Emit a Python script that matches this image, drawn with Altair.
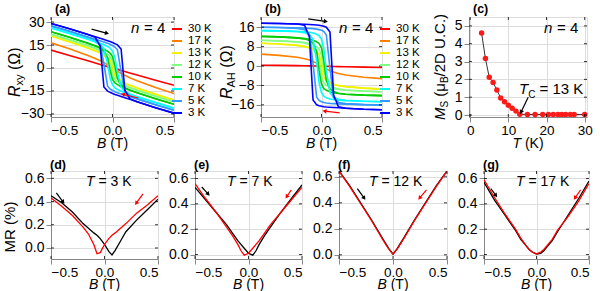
import math
import altair as alt
import pandas as pd

FONT = "Liberation Sans"

# ---------------- data ----------------
TEMPS = ["30 K", "17 K", "13 K", "12 K", "10 K", "7 K", "5 K", "3 K"]
TEMP_COLORS = ["#ff0000", "#ff8000", "#f2f200", "#80ff80", "#00cc00", "#00ffff", "#3399ff", "#0000ff"]

B_LOOP = [-0.5, -0.35, -0.2, -0.14, -0.1, -0.07, -0.04, -0.02, 0.0, 0.02, 0.04, 0.07, 0.1, 0.14, 0.2, 0.35, 0.5]

# (a) R_xy, field swept up (-0.5 -> 0.5) and down (0.5 -> -0.5)
RXY_UP = {
    "30 K": [11.7, 8.2, 4.7, 3.3, 2.3, 1.6, 0.9, 0.45, 0.0, -0.45, -0.9, -1.6, -2.3, -3.2, -4.6, -8.0, -11.3],
    "17 K": [16.4, 12.5, 8.2, 6.2, 4.8, 3.5, 2.1, 1.1, 0.0, -1.1, -2.1, -3.5, -4.8, -6.3, -8.3, -12.7, -16.7],
    "13 K": [20.9, 17.2, 13.1, 11.3, 9.9, 8.6, 6.9, 5.1, 1.5, -3.0, -5.9, -8.2, -9.7, -11.2, -13.1, -17.2, -21.0],
    "12 K": [22.1, 18.5, 14.6, 12.9, 11.6, 10.4, 8.9, 7.5, 4.5, -2.0, -6.4, -9.4, -11.1, -12.7, -14.5, -18.4, -22.1],
    "10 K": [23.7, 20.1, 16.2, 14.5, 13.3, 12.2, 10.9, 9.8, 7.5, 1.5, -6.9, -11.1, -12.8, -14.4, -16.2, -20.1, -23.7],
    "7 K": [26.1, 22.6, 18.9, 17.3, 16.2, 15.2, 14.0, 13.0, 11.0, 6.5, -2.9, -12.6, -15.2, -16.9, -18.7, -22.6, -26.2],
    "5 K": [27.5, 24.0, 20.3, 18.8, 17.8, 17.0, 16.1, 15.5, 14.7, 13.7, 11.9, -2.6, -15.3, -18.2, -20.1, -24.0, -27.6],
    "3 K": [29.1, 25.6, 21.9, 20.4, 19.4, 18.6, 17.8, 17.3, 16.6, 15.9, 15.1, 12.4, -14.3, -20.0, -22.0, -25.9, -29.5],
}
RXY_DOWN = {
    "13 K": [20.9, 17.2, 13.1, 11.2, 9.7, 8.2, 5.9, 3.0, -1.5, -5.1, -6.9, -8.6, -9.9, -11.3, -13.1, -17.2, -21.0],
    "12 K": [22.1, 18.4, 14.5, 12.7, 11.1, 9.4, 6.4, 2.0, -4.5, -7.5, -8.9, -10.4, -11.6, -12.9, -14.6, -18.5, -22.1],
    "10 K": [23.7, 20.1, 16.2, 14.4, 12.8, 11.1, 6.9, -1.5, -7.5, -9.8, -10.9, -12.2, -13.3, -14.5, -16.2, -20.1, -23.7],
    "7 K": [26.1, 22.6, 18.7, 16.9, 15.2, 12.6, 2.9, -6.5, -11.0, -13.0, -14.0, -15.2, -16.2, -17.3, -18.9, -22.6, -26.2],
    "5 K": [27.5, 24.0, 20.1, 18.2, 15.3, 2.6, -11.9, -13.7, -14.7, -15.5, -16.1, -17.0, -17.8, -18.8, -20.3, -24.0, -27.6],
    "3 K": [29.1, 25.6, 21.9, 20.0, 14.3, -12.4, -15.1, -15.9, -16.6, -17.3, -17.8, -18.6, -19.4, -20.4, -22.0, -25.9, -29.5],
}

# (b) R_AH
RAH_UP = {
    "30 K": [0.3, 0.25, 0.15, 0.1, 0.08, 0.05, 0.03, 0.01, 0.0, -0.05, -0.1, -0.15, -0.2, -0.25, -0.3, -0.45, -0.6],
    "17 K": [4.9, 4.4, 3.6, 3.0, 2.5, 1.9, 1.2, 0.6, 0.0, -0.6, -1.2, -1.9, -2.5, -3.1, -3.7, -4.6, -5.2],
    "13 K": [9.4, 9.1, 8.5, 8.1, 7.6, 7.0, 6.0, 4.6, 1.5, -2.5, -5.0, -6.6, -7.4, -8.0, -8.5, -9.1, -9.5],
    "12 K": [10.6, 10.4, 10.0, 9.7, 9.3, 8.8, 8.0, 7.0, 4.5, -1.5, -5.5, -7.8, -8.8, -9.5, -9.9, -10.3, -10.6],
    "10 K": [12.2, 12.0, 11.6, 11.3, 11.0, 10.6, 10.0, 9.3, 7.5, 2.0, -6.0, -9.5, -10.5, -11.2, -11.6, -12.0, -12.2],
    "7 K": [14.6, 14.5, 14.3, 14.1, 13.9, 13.6, 13.1, 12.5, 11.0, 7.0, -2.0, -11.0, -12.9, -13.7, -14.1, -14.5, -14.7],
    "5 K": [16.0, 15.9, 15.7, 15.6, 15.5, 15.4, 15.2, 15.0, 14.7, 14.2, 12.8, -1.0, -13.0, -15.0, -15.5, -15.9, -16.1],
    "3 K": [17.6, 17.5, 17.3, 17.2, 17.1, 17.0, 16.9, 16.8, 16.6, 16.4, 16.0, 14.0, -12.0, -16.8, -17.4, -17.8, -18.0],
}
RAH_DOWN = {
    "13 K": [9.4, 9.1, 8.5, 8.0, 7.4, 6.6, 5.0, 2.5, -1.5, -4.6, -6.0, -7.0, -7.6, -8.1, -8.5, -9.1, -9.5],
    "12 K": [10.6, 10.3, 9.9, 9.5, 8.8, 7.8, 5.5, 1.5, -4.5, -7.0, -8.0, -8.8, -9.3, -9.7, -10.0, -10.4, -10.6],
    "10 K": [12.2, 12.0, 11.6, 11.2, 10.5, 9.5, 6.0, -2.0, -7.5, -9.3, -10.0, -10.6, -11.0, -11.3, -11.6, -12.0, -12.2],
    "7 K": [14.6, 14.5, 14.1, 13.7, 12.9, 11.0, 2.0, -7.0, -11.0, -12.5, -13.1, -13.6, -13.9, -14.1, -14.3, -14.5, -14.7],
    "5 K": [16.0, 15.9, 15.5, 15.0, 13.0, 1.0, -12.8, -14.2, -14.7, -15.0, -15.2, -15.4, -15.5, -15.6, -15.7, -15.9, -16.1],
    "3 K": [17.6, 17.5, 17.3, 16.8, 12.0, -14.0, -16.0, -16.4, -16.6, -16.8, -16.9, -17.0, -17.1, -17.2, -17.4, -17.8, -18.0],
}

# (c) saturation magnetisation vs temperature
T_MS = [3, 4, 5, 6, 7, 8, 9, 10, 11, 12, 13, 15, 17, 19, 20.5, 21.75, 23, 24, 25, 26.25, 27.25, 30]
MS = [4.6, 3.17, 2.12, 1.82, 1.41, 0.95, 0.75, 0.55, 0.38, 0.22, 0.04, 0.03, 0.03, 0.03, 0.03, 0.03,
      0.03, 0.03, 0.03, 0.03, 0.03, 0.03]

# (d)-(g) magnetoresistance
B_MR = [-0.5, -0.4, -0.3, -0.2, -0.15, -0.1, -0.07, -0.04, 0.0, 0.04, 0.07, 0.1, 0.15, 0.2, 0.3, 0.4, 0.5]
MR_3K_UP = [0.45, 0.39, 0.31, 0.21, 0.17, 0.13, 0.11, 0.08, 0.03, -0.03, -0.06, -0.02, 0.06, 0.14, 0.24, 0.33, 0.42]
MR_3K_DN = [0.43, 0.36, 0.28, 0.18, 0.12, 0.03, -0.05, -0.04, 0.03, 0.08, 0.11, 0.13, 0.17, 0.21, 0.30, 0.37, 0.45]
MR_7K_UP = [0.53, 0.43, 0.33, 0.23, 0.17, 0.11, 0.08, 0.05, 0.01, -0.005, 0.03, 0.08, 0.15, 0.21, 0.33, 0.44, 0.55]
MR_7K_DN = [0.56, 0.44, 0.33, 0.21, 0.15, 0.08, 0.03, -0.005, 0.01, 0.05, 0.08, 0.11, 0.17, 0.23, 0.33, 0.43, 0.53]
MR_12K_UP = [0.645, 0.53, 0.40, 0.27, 0.20, 0.13, 0.09, 0.05, 0.005, 0.05, 0.09, 0.13, 0.20, 0.27, 0.40, 0.53, 0.645]
MR_12K_DN = [0.645, 0.525, 0.395, 0.265, 0.195, 0.125, 0.085, 0.045, 0.005, 0.045, 0.085, 0.125, 0.195, 0.265, 0.395, 0.525, 0.645]
MR_17K_UP = [0.57, 0.43, 0.31, 0.19, 0.12, 0.07, 0.04, 0.02, 0.003, 0.01, 0.03, 0.06, 0.11, 0.18, 0.31, 0.44, 0.58]
MR_17K_DN = [0.59, 0.45, 0.32, 0.20, 0.13, 0.07, 0.04, 0.02, 0.005, 0.02, 0.04, 0.07, 0.12, 0.19, 0.30, 0.42, 0.56]

# ---------------- helpers ----------------
CW = {" ": 278, "(": 333, ")": 333, "Ω": 768, "R": 722, "x": 500, "y": 500, "A": 667, "H": 722,
      "M": 833, "S": 667, "μ": 576, "B": 667, "/": 278, "D": 722, "U": 722, ".": 278, "C": 722,
      "%": 889, "T": 611, "K": 667, "=": 584, "n": 556}
LBL = 14


def tw(s, fs):
    return sum(CW.get(c, 556) for c in s) * fs / 1000.0


def text_layer(s, x, y, size=13, italic=False, bold=False, angle=0, align="left",
               baseline="alphabetic", color="black"):
    kw = dict(font=FONT, fontSize=size, align=align, baseline=baseline, color=color)
    if italic:
        kw["fontStyle"] = "italic"
    if bold:
        kw["fontWeight"] = "bold"
    if angle:
        kw["angle"] = angle
    return alt.Chart(pd.DataFrame({"s": [s]})).mark_text(**kw).encode(
        text="s:N", x=alt.value(x), y=alt.value(y))


def rich_h(pieces, x, y):
    out = []
    for t, fs, it, sh in pieces:
        lead = len(t) - len(t.lstrip(" "))
        x += tw(" " * lead, fs)
        t = t.lstrip(" ")
        out.append(text_layer(t, x, y + sh, fs, italic=it))
        x += tw(t, fs)
    return out


def rich_h_center(pieces, cx, y):
    total = sum(tw(t, fs) for t, fs, it, sh in pieces)
    return rich_h(pieces, cx - total / 2.0, y)


def rich_v_center(pieces, bx, cy):
    total = sum(tw(t, fs) for t, fs, it, sh in pieces)
    y = cy + total / 2.0
    out = []
    for t, fs, it, sh in pieces:
        lead = len(t) - len(t.lstrip(" "))
        y -= tw(" " * lead, fs)
        t = t.lstrip(" ")
        out.append(text_layer(t, bx + sh, y, fs, italic=it, angle=270))
        y -= tw(t, fs)
    return out


def frame_ticks(xs, ys, xax, yax, xt, yt, w, h, L=3):
    tx = alt.Chart(pd.DataFrame({"v": xt}))
    ty = alt.Chart(pd.DataFrame({"v": yt}))
    X = alt.X("v:Q", scale=xs, axis=xax, title=None)
    Y = alt.Y("v:Q", scale=ys, axis=yax, title=None)
    st = dict(color="black", strokeWidth=0.8)
    return [
        tx.mark_rule(**st).encode(x=X, y=alt.value(h), y2=alt.value(h - L)),
        tx.mark_rule(**st).encode(x=X, y=alt.value(0), y2=alt.value(L)),
        ty.mark_rule(**st).encode(y=Y, x=alt.value(0), x2=alt.value(L)),
        ty.mark_rule(**st).encode(y=Y, x=alt.value(w), x2=alt.value(w - L)),
    ]


def arrow_layers(arrs, xs, ys, xax, yax, xd, yd, w, h):
    out = []
    for (x1, y1, x2, y2, col) in arrs:
        base = alt.Chart(pd.DataFrame({"x1": [x1], "y1": [y1], "x2": [x2], "y2": [y2]}))
        X1 = alt.X("x1:Q", scale=xs, axis=xax, title=None)
        Y1 = alt.Y("y1:Q", scale=ys, axis=yax, title=None)
        out.append(base.mark_rule(color=col, strokeWidth=1.2).encode(x=X1, y=Y1, x2="x2:Q", y2="y2:Q"))
        dxp = (x2 - x1) / (xd[1] - xd[0]) * w
        dyp = -(y2 - y1) / (yd[1] - yd[0]) * h
        ang = math.degrees(math.atan2(dxp, -dyp)) % 360
        out.append(base.mark_point(shape="triangle", filled=True, size=22, color=col, opacity=1,
                                   angle=ang).encode(
            x=alt.X("x2:Q", scale=xs, axis=xax, title=None),
            y=alt.Y("y2:Q", scale=ys, axis=yax, title=None)))
    return out


def anchor(x, y1, y2):
    return alt.Chart(pd.DataFrame({"a": [0]})).mark_rule(opacity=0, strokeWidth=0.1).encode(
        x=alt.value(x), y=alt.value(y1), y2=alt.value(y2))


# ---------------- layout numbers ----------------
TOP_H = 100
A_W, B_W, C_W = 123, 121, 118
TOP_SP = 87
BOT_H = 88
D_W, E_W, F_W, G_W = 107, 107, 108, 105
BOT_SP = 37


def loop_panel(up, down, ydom, yticks, w, label, ytitle, arrows, extra):
    rows = []
    for t in TEMPS:
        for b, r in zip(B_LOOP, up[t]):
            rows.append({"T": t, "br": t + "u", "B": b, "R": r})
        if t in down:
            for b, r in zip(B_LOOP, down[t]):
                rows.append({"T": t, "br": t + "d", "B": b, "R": r})
    df = pd.DataFrame(rows)
    xd = [-0.5, 0.5]
    xs = alt.Scale(domain=xd, nice=False, zero=False)
    ys = alt.Scale(domain=ydom, nice=False, zero=False)
    xax = alt.Axis(values=[-0.5, 0.0, 0.5], format=".1f", labelFontSize=13.5, labelPadding=1)
    yax = alt.Axis(values=yticks, format="d", labelFontSize=LBL)
    lines = alt.Chart(df).mark_line(strokeWidth=1.6, clip=True).encode(
        x=alt.X("B:Q", scale=xs, axis=xax, title=None),
        y=alt.Y("R:Q", scale=ys, axis=yax, title=None),
        color=alt.Color("T:N", scale=alt.Scale(domain=TEMPS, range=TEMP_COLORS),
                        legend=alt.Legend(orient="none", legendX=w - 3, legendY=6, title=None,
                                          symbolType="stroke", symbolSize=100, symbolStrokeWidth=2,
                                          labelFont=FONT, labelFontSize=11.5, labelColor="black",
                                          rowPadding=0, padding=0, labelOffset=5)),
        detail="br:N",
    )
    layers = [lines] + frame_ticks(xs, ys, xax, yax, [-0.5, 0, 0.5], yticks, w, TOP_H)
    layers += arrow_layers(arrows, xs, ys, xax, yax, xd, ydom, w, TOP_H)
    layers += [text_layer(label, 4, -4, 12.5, bold=True)]
    layers += rich_h([("n", 15, True, 0)], w - 43, 16) + rich_h([("= 4", 15, False, 0)], w - 30, 16)
    layers += ytitle
    layers += rich_h_center([("B", 14, True, 0), (" (T)", 14, False, 0)], w / 2.0, TOP_H + 31)
    layers += extra
    return alt.layer(*layers).properties(width=w, height=TOP_H)


pa = loop_panel(RXY_UP, RXY_DOWN, [-32, 33.3], [-30, -15, 0, 15, 30], A_W, "(a)",
                rich_v_center([("R", 16, True, 0), ("xy", 11, False, 3), (" (Ω)", 16, False, 0)], -31, 55),
                [(-0.17, 25.4, -0.05, 22.8, "black"), (0.21, -19.6, 0.09, -17.3, "red")],
                [anchor(-43, -16, 132)])

pb = loop_panel(RAH_UP, RAH_DOWN, [-21, 20.2], [-16, -8, 0, 8, 16], B_W, "(b)",
                rich_v_center([("R", 16, True, 0), ("AH", 11, False, 3), (" (Ω)", 16, False, 0)], -29, 55),
                [(-0.11, 19.4, 0.03, 18.4, "black"), (0.15, -19.3, 0.03, -18.6, "red")],
                [])

# panel (c)
xd_c = [-0.3, 30.6]
yd_c = [-0.11, 5.5]
xs_c = alt.Scale(domain=xd_c, nice=False, zero=False)
ys_c = alt.Scale(domain=yd_c, nice=False, zero=False)
xax_c = alt.Axis(values=[0, 10, 20, 30], format="d", labelFontSize=13.5, labelPadding=1)
yax_c = alt.Axis(values=[0, 1, 2, 3, 4, 5], format="d", labelFontSize=LBL)
df_c = pd.DataFrame({"T": T_MS, "M": MS})
base_c = alt.Chart(df_c).encode(
    x=alt.X("T:Q", scale=xs_c, axis=xax_c, title=None),
    y=alt.Y("M:Q", scale=ys_c, axis=yax_c, title=None))
c_layers = [base_c.mark_line(color="#333333", strokeWidth=1),
            base_c.mark_circle(color="#ff1a1a", size=30, opacity=1)]
c_layers += frame_ticks(xs_c, ys_c, xax_c, yax_c, [0, 10, 20, 30], [0, 1, 2, 3, 4, 5], C_W, TOP_H)
c_layers += arrow_layers([(15.2, 1.0, 13.4, 0.2, "black")], xs_c, ys_c, xax_c, yax_c, xd_c, yd_c, C_W, TOP_H)
c_layers += [text_layer("(c)", 4, -4, 12.5, bold=True)]
c_layers += rich_h([("n", 15, True, 0)], C_W - 43, 16) + rich_h([("= 4", 15, False, 0)], C_W - 30, 16)
c_layers += rich_h([("T", 15, True, 0), ("C", 10, False, 4), (" = 13 K", 15, False, 0)], 50, 77)
c_layers += rich_v_center([("M", 15, True, 0), ("S", 10, False, 3), (" (μ", 15, False, 0), ("B", 10, False, 3),
                           ("/2D U.C.)", 15, False, 0)], -24, 50)
c_layers += rich_h_center([("T", 14, True, 0), (" (K)", 14, False, 0)], C_W / 2.0, TOP_H + 31)
pc = alt.layer(*c_layers).properties(width=C_W, height=TOP_H)


def mr_panel(up, dn, ydom, w, label, tlabel, tx, arrows, extra):
    xd = [-0.5, 0.5]
    xs = alt.Scale(domain=xd, nice=False, zero=False)
    ys = alt.Scale(domain=ydom, nice=False, zero=False)
    xax = alt.Axis(values=[-0.5, 0.0, 0.5], format=".1f", labelFontSize=13.5, labelPadding=1)
    yax = alt.Axis(values=[0.0, 0.2, 0.4, 0.6], format=".1f", labelFontSize=LBL)
    layers = []
    for vals, col in ((up, "black"), (dn, "#ff0000")):
        df = pd.DataFrame({"B": B_MR, "MR": vals})
        layers.append(alt.Chart(df).mark_line(color=col, strokeWidth=1.3, clip=True).encode(
            x=alt.X("B:Q", scale=xs, axis=xax, title=None),
            y=alt.Y("MR:Q", scale=ys, axis=yax, title=None)))
    layers += frame_ticks(xs, ys, xax, yax, [-0.5, 0, 0.5], [0.0, 0.2, 0.4, 0.6], w, BOT_H)
    layers += arrow_layers(arrows, xs, ys, xax, yax, xd, ydom, w, BOT_H)
    layers += [text_layer(label, -1, -2, 12.5, bold=True)]
    layers += rich_h([("T", 14, True, 0), (" = " + tlabel, 14, False, 0)], tx, 15)
    layers += rich_h_center([("B", 14, True, 0), (" (T)", 14, False, 0)], w / 2.0, BOT_H + 30)
    layers += extra
    return alt.layer(*layers).properties(width=w, height=BOT_H)


pd_ = mr_panel(MR_3K_UP, MR_3K_DN, [-0.095, 0.663], D_W, "(d)", "3 K", 35,
               [(-0.45, 0.475, -0.39, 0.40, "black"), (0.36, 0.466, 0.30, 0.39, "red")],
               [anchor(-50, -18, 0)] + rich_v_center([("MR (%)", 15, False, 0)], -36, 56))
pe = mr_panel(MR_7K_UP, MR_7K_DN, [-0.035, 0.659], E_W, "(e)", "7 K", 32,
              [(-0.437, 0.533, -0.38, 0.48, "black"), (0.40, 0.51, 0.36, 0.46, "red")], [])
pf = mr_panel(MR_12K_UP, MR_12K_DN, [-0.032, 0.645], F_W, "(f)", "12 K", 30,
              [(-0.33, 0.51, -0.27, 0.44, "black"), (0.31, 0.50, 0.25, 0.44, "red")], [])
pg = mr_panel(MR_17K_UP, MR_17K_DN, [-0.035, 0.659], G_W, "(g)", "17 K", 32,
              [(-0.435, 0.52, -0.39, 0.47, "black"), (0.42, 0.51, 0.37, 0.45, "red")], [])

top = alt.hconcat(pa, pb, pc, spacing=TOP_SP, bounds="flush").resolve_scale(color="independent")
bottom = alt.hconcat(pd_, pe, pf, pg, spacing=BOT_SP, bounds="flush")

chart = alt.vconcat(top, bottom, spacing=0).resolve_scale(color="independent").properties(
    padding=0
).configure_axis(
    domain=False, ticks=False, tickSize=0, grid=False, labelFont=FONT, labelFontSize=LBL,
    labelColor="black", labelPadding=2, labelFlush=False, labelOverlap=False
).configure_view(stroke="black", strokeWidth=1).configure(background="white")

chart.save("out.html", embed_options={"renderer": "svg", "actions": False})
